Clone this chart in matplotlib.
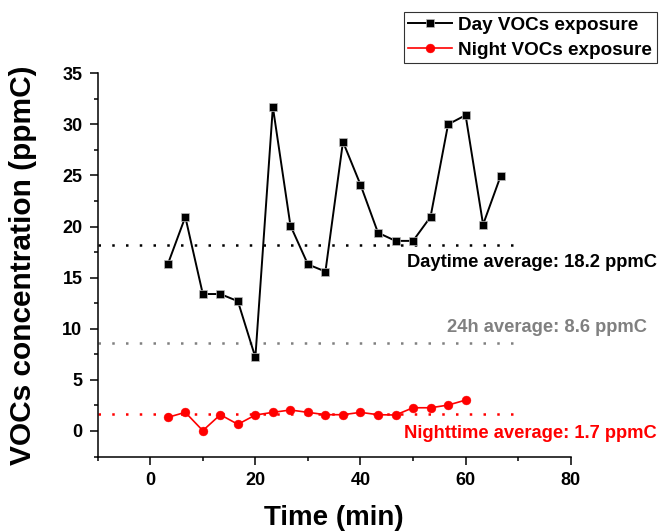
import matplotlib
matplotlib.use("Agg")
import matplotlib.pyplot as plt
from matplotlib.ticker import MultipleLocator

plt.rcParams['font.family'] = ['Liberation Sans', 'DejaVu Sans']
plt.rcParams['font.weight'] = 'bold'

# Data
day_time = [3.33, 6.67, 10.0, 13.33, 16.67, 20.0, 23.33, 26.67, 30.0, 33.33,
            36.67, 40.0, 43.33, 46.67, 50.0, 53.33, 56.67, 60.0, 63.33, 66.67]
day_voc = [16.3, 20.95, 13.4, 13.4, 12.7, 7.2, 31.7, 20.1, 16.3, 15.6,
           28.3, 24.1, 19.4, 18.6, 18.6, 20.95, 30.0, 30.9, 20.2, 24.95]
night_time = [3.33, 6.67, 10.0, 13.33, 16.67, 20.0, 23.33, 26.67, 30.0, 33.33,
              36.67, 40.0, 43.33, 46.67, 50.0, 53.33, 56.67, 60.0]
night_voc = [1.33, 1.82, 0.03, 1.59, 0.65, 1.56, 1.82, 2.05, 1.82, 1.59,
             1.59, 1.82, 1.59, 1.56, 2.27, 2.27, 2.53, 3.02]
avg_labels = ["Daytime average: 18.2 ppmC", "24h average: 8.6 ppmC", "Nighttime average: 1.7 ppmC"]
avg_values = [18.2, 8.6, 1.7]
avg_colors = ["black", "#808080", "red"]
series_labels = ["Day VOCs exposure", "Night VOCs exposure"]

fig = plt.figure(figsize=(6.68, 5.32), dpi=100)
ax = fig.add_axes([97.7/668, 1-456.5/532, (570.7-97.7)/668, (456.5-73.3)/532])

ax.set_xlim(-10, 80)
ax.set_ylim(-2.5, 35)

for v, c in zip(avg_values, avg_colors):
    ax.plot([-10, 70], [v, v], color=c, lw=1.8, linestyle=(0, (1, 4.5)), zorder=1)

ax.plot(day_time, day_voc, color='black', lw=1.4, marker='s', markersize=6,
        markerfacecolor='black', markeredgecolor='#bbbbbb', markeredgewidth=0.5,
        label=series_labels[0], zorder=3, clip_on=False)
ax.plot(night_time, night_voc, color='red', lw=1.2, marker='o', markersize=6.4,
        markerfacecolor='red', markeredgecolor='red', markeredgewidth=0.3,
        label=series_labels[1], zorder=3, clip_on=False)

# Average labels (figure pixel positions)
fig.text(532/668, 1-267/532, avg_labels[0], color=avg_colors[0], fontsize=13.2,
         fontweight='bold', ha='center', va='baseline')
fig.text(547/668, 1-331.7/532, avg_labels[1], color=avg_colors[1], fontsize=13.2,
         fontweight='bold', ha='center', va='baseline')
fig.text(530.5/668, 1-438/532, avg_labels[2], color=avg_colors[2], fontsize=13.2,
         fontweight='bold', ha='center', va='baseline')

for s in ['top', 'right']:
    ax.spines[s].set_visible(False)
for s in ['left', 'bottom']:
    ax.spines[s].set_linewidth(1.1)

ax.xaxis.set_major_locator(MultipleLocator(20))
ax.xaxis.set_minor_locator(MultipleLocator(10))
ax.yaxis.set_major_locator(MultipleLocator(5))
ax.yaxis.set_minor_locator(MultipleLocator(2.5))
ax.tick_params(which='major', direction='out', length=6, width=1.1, labelsize=13, pad=5)
ax.tick_params(which='minor', direction='out', length=3.2, width=1.1)
for lab in ax.get_xticklabels() + ax.get_yticklabels():
    lab.set_fontweight('bold')

ax.set_xlabel("Time (min)", fontsize=20, fontweight='bold', labelpad=12)
ax.set_ylabel("VOCs concentration (ppmC)", fontsize=21.5, fontweight='bold', labelpad=18)

leg = fig.legend(loc='upper right', bbox_to_anchor=(657/668, 1-12/532),
                 borderaxespad=0, fontsize=13.6, frameon=True, fancybox=False,
                 handlelength=2.3, handletextpad=0.35, borderpad=0.25,
                 labelspacing=0.4)
leg.get_frame().set_edgecolor('black')
leg.get_frame().set_linewidth(0.8)
for t in leg.get_texts():
    t.set_fontweight('bold')

fig.savefig("out.png", dpi=100)
